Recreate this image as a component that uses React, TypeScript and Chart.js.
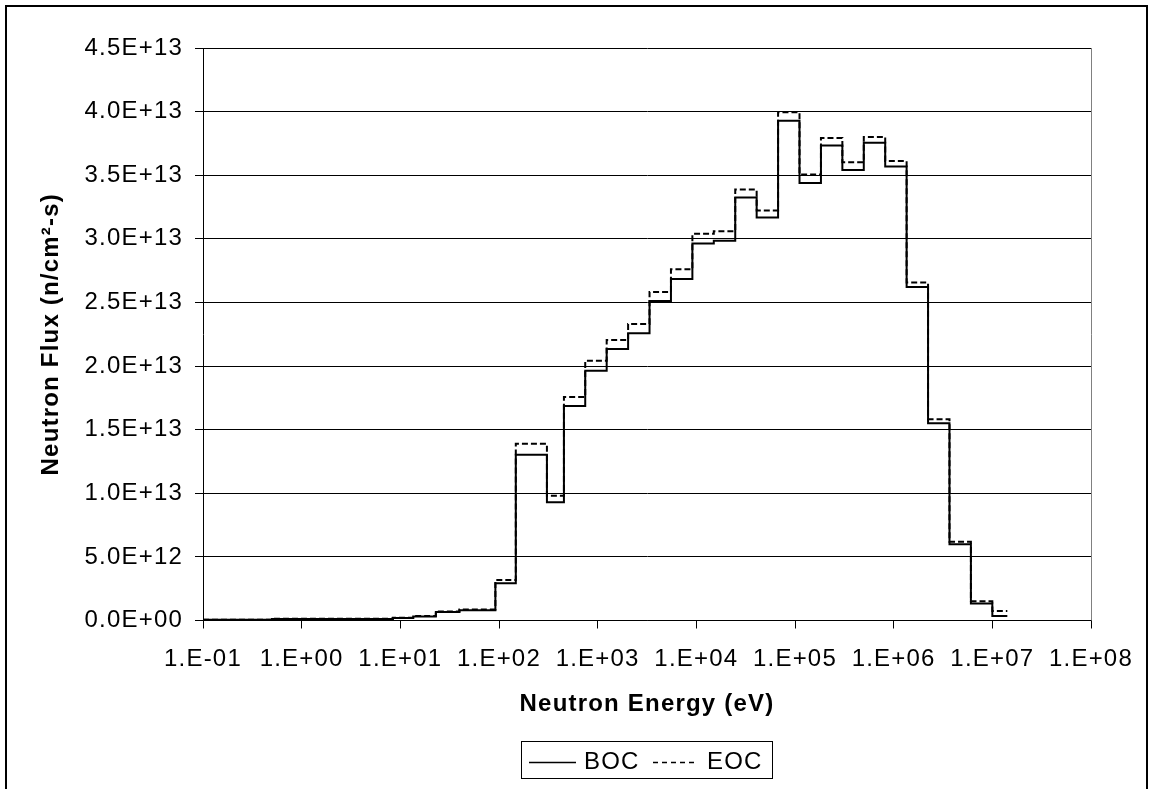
import React, { useEffect, useRef } from 'react';
import { Chart, registerables } from 'chart.js';

Chart.register(...registerables);

// Energy group boundaries (eV), ascending
const energyBoundsEV = [
  0.1, 0.5, 8.4, 13.5, 22.9, 39.7, 91.9, 148, 306, 455, 748, 1234, 2035, 3355, 5531,
  9119, 15030, 24790, 40870, 67380, 111100, 183200, 302000, 497900, 820900,
  1353000, 2231000, 3679000, 6065000, 10000000, 14190000,
];

// Group flux, BOC (n/cm2-s)
const bocFlux = [
  5.0e10, 1.2e11, 2.0e11, 3.2e11, 6.6e11, 8.0e11, 2.92e12, 1.303e13, 9.29e12, 1.686e13,
  1.964e13, 2.134e13, 2.258e13, 2.512e13, 2.685e13, 2.964e13, 2.984e13, 3.324e13, 3.167e13, 3.929e13,
  3.439e13, 3.733e13, 3.542e13, 3.756e13, 3.568e13, 2.622e13, 1.55e13, 5.99e12, 1.33e12, 3.5e11,
];

// Group flux, EOC (n/cm2-s)
const eocFlux = [
  6.0e10, 1.4e11, 2.2e11, 3.6e11, 7.0e11, 8.6e11, 3.18e12, 1.39e13, 9.81e12, 1.757e13,
  2.042e13, 2.205e13, 2.331e13, 2.583e13, 2.761e13, 3.039e13, 3.06e13, 3.387e13, 3.222e13, 3.995e13,
  3.505e13, 3.793e13, 3.602e13, 3.801e13, 3.612e13, 2.656e13, 1.582e13, 6.19e12, 1.51e12, 7.5e11,
];

const seriesNames = ['BOC', 'EOC'];
const xTickDecades = [-1, 0, 1, 2, 3, 4, 5, 6, 7, 8];
const yMin = 0;
const yMax = 4.5e13;
const yStep = 5e12;

const xTitle = 'Neutron Energy (eV)';
const yTitle = 'Neutron Flux (n/cm\u00B2-s)';

const FONT = "'Liberation Sans', Arial, Helvetica, sans-serif";
const FONT_SIZE = 24;
const LETTER_SPACING = '1.2px';

function stepPoints(bounds: number[], flux: number[]) {
  const pts = flux.map((f, i) => ({ x: bounds[i], y: f }));
  pts.push({ x: bounds[bounds.length - 1], y: flux[flux.length - 1] });
  return pts;
}

function fmtY(v: number): string {
  if (Math.abs(v) < 1) return '0.0E+00';
  let e = Math.floor(Math.log10(Math.abs(v)) + 1e-9);
  let m = v / Math.pow(10, e);
  let ms = m.toFixed(1);
  if (ms === '10.0') { e += 1; ms = '1.0'; }
  return ms + 'E' + (e < 0 ? '-' : '+') + String(Math.abs(e)).padStart(2, '0');
}

function fmtX(v: number): string {
  const e = Math.round(Math.log10(v));
  return '1.E' + (e < 0 ? '-' : '+') + String(Math.abs(e)).padStart(2, '0');
}

const decorPlugin = {
  id: 'decor',
  beforeLayout(chart: any) {
    chart.ctx.letterSpacing = LETTER_SPACING;
  },
  beforeDraw(chart: any) {
    chart.ctx.letterSpacing = LETTER_SPACING;
  },
  afterDraw(chart: any) {
    const ctx = chart.ctx as CanvasRenderingContext2D;
    const ca = chart.chartArea;
    ctx.save();
    // outer frame
    ctx.strokeStyle = '#000';
    ctx.lineWidth = 2;
    ctx.setLineDash([]);
    ctx.strokeRect(6, 6, 1141, 830);
    // plot area right border
    ctx.strokeStyle = '#808080';
    ctx.lineWidth = 1;
    ctx.beginPath();
    ctx.moveTo(Math.round(ca.right) + 0.5, ca.top);
    ctx.lineTo(Math.round(ca.right) + 0.5, ca.bottom);
    ctx.stroke();

    // legend
    ctx.strokeStyle = '#000';
    ctx.lineWidth = 1;
    ctx.strokeRect(521.5, 741.5, 251, 37);
    ctx.lineWidth = 1.5;
    ctx.beginPath();
    ctx.moveTo(529, 762.5);
    ctx.lineTo(576, 762.5);
    ctx.stroke();
    ctx.setLineDash([5, 4]);
    ctx.beginPath();
    ctx.moveTo(653, 762.5);
    ctx.lineTo(698, 762.5);
    ctx.stroke();
    ctx.setLineDash([]);
    (ctx as any).letterSpacing = LETTER_SPACING;
    ctx.font = `${FONT_SIZE}px ${FONT}`;
    ctx.fillStyle = '#000';
    ctx.textBaseline = 'middle';
    ctx.textAlign = 'left';
    ctx.fillText(seriesNames[0], 584, 762);
    ctx.fillText(seriesNames[1], 707, 762);
    ctx.restore();
  },
};

export default function App() {
  const canvasRef = useRef<HTMLCanvasElement | null>(null);

  useEffect(() => {
    const canvas = canvasRef.current;
    if (!canvas) return;
    Chart.defaults.font.family = FONT;
    Chart.defaults.font.size = FONT_SIZE;
    Chart.defaults.color = '#000';

    const chart = new Chart(canvas, {
      type: 'line',
      data: {
        datasets: [
          {
            label: seriesNames[0],
            data: stepPoints(energyBoundsEV, bocFlux),
            stepped: 'before',
            borderColor: '#000',
            borderWidth: 2,
            pointRadius: 0,
            fill: false,
            order: 1,
          },
          {
            label: seriesNames[1],
            data: stepPoints(energyBoundsEV, eocFlux),
            stepped: 'before',
            borderColor: '#000',
            borderWidth: 2,
            borderDash: [6, 3],
            pointRadius: 0,
            fill: false,
            order: 0,
          },
        ],
      },
      options: {
        responsive: false,
        animation: false,
        devicePixelRatio: 1,
        layout: { padding: { left: 0, right: 63, top: 48, bottom: 0 } },
        plugins: {
          legend: { display: false },
          tooltip: { enabled: false },
        },
        scales: {
          x: {
            type: 'logarithmic',
            min: 0.1,
            max: 1e8,
            afterBuildTicks: (scale: any) => {
              scale.ticks = xTickDecades.map((d) => ({ value: Math.pow(10, d) }));
            },
            afterFit: (scale: any) => {
              scale.height = 168.5;
            },
            ticks: {
              autoSkip: false,
              maxRotation: 0,
              minRotation: 0,
              padding: 16,
              color: '#000',
              font: { family: FONT, size: FONT_SIZE },
              callback: (v: any) => fmtX(Number(v)),
            },
            grid: {
              drawOnChartArea: false,
              drawTicks: true,
              tickLength: 8,
              tickColor: '#000',
              color: '#000',
            },
            border: { display: true, color: '#000', width: 1 },
            title: {
              display: true,
              text: xTitle,
              color: '#000',
              font: { family: FONT, size: FONT_SIZE, weight: 'bold' },
              padding: { top: 0, bottom: 70 },
            },
          },
          y: {
            type: 'linear',
            min: yMin,
            max: yMax,
            afterFit: (scale: any) => {
              scale.width = 203;
            },
            ticks: {
              stepSize: yStep,
              padding: 12,
              color: '#000',
              font: { family: FONT, size: FONT_SIZE },
              callback: (v: any) => fmtY(Number(v)),
            },
            grid: {
              color: '#000',
              lineWidth: 1,
              drawTicks: true,
              tickLength: 8,
              tickColor: '#000',
            },
            border: { display: true, color: '#000', width: 1 },
            title: {
              display: true,
              text: yTitle,
              color: '#000',
              font: { family: FONT, size: FONT_SIZE, weight: 'bold' },
              padding: { top: 37, bottom: 0 },
            },
          },
        },
      },
      plugins: [decorPlugin],
    } as any);

    return () => {
      chart.destroy();
    };
  }, []);

  return (
    <div style={{ position: 'fixed', left: 0, top: 0, width: 1154, height: 789, background: '#fff' }}>
      <canvas ref={canvasRef} width={1154} height={789} style={{ display: 'block', width: 1154, height: 789 }} />
    </div>
  );
}
